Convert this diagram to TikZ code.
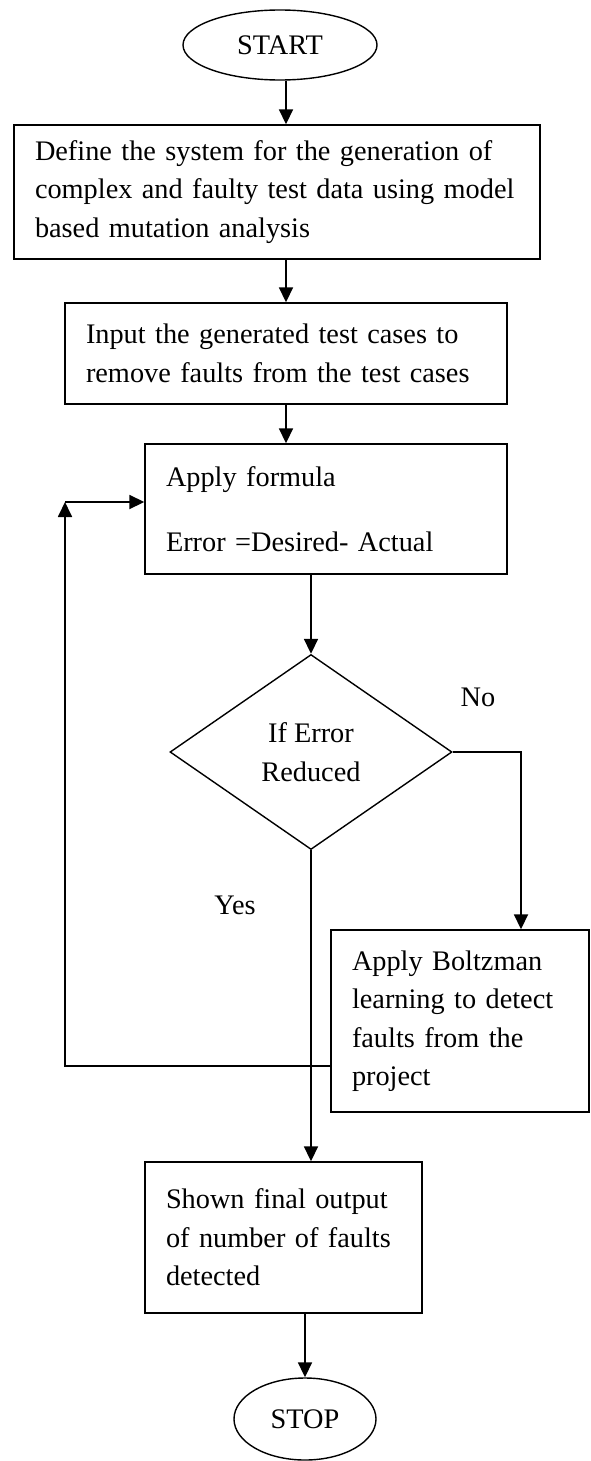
\documentclass[tikz,border=0pt]{standalone}
\usepackage{fontspec}
\setmainfont{Liberation Serif}
\usetikzlibrary{arrows.meta}
\usetikzlibrary{shapes.geometric}

\tikzset{
  stepbox/.style={draw, line width=1.4pt, inner xsep=21pt, inner ysep=0pt, align=left},
  terminal/.style={draw, ellipse, line width=1.4pt, inner sep=0pt},
  decision/.style={draw, diamond, line width=1.4pt, inner sep=0pt, aspect=1.446, align=center},
  flow/.style={line width=1.8pt, -{Triangle[length=15pt,width=14pt]}}
}

\begin{document}
\begin{tikzpicture}[x=1pt, y=-1pt, font=\fontsize{28.3}{38.5}\selectfont]
\useasboundingbox (0,0) rectangle (590,1461);
\coordinate (nobend) at (521,752);
\coordinate (loopbot) at (65,1066);
\coordinate (looptop) at (65,502);
% draws terminals
\node[terminal, minimum width=194pt, minimum height=70pt] (start) at (280,45) {START};
\node[terminal, minimum width=142pt, minimum height=82pt] (stop) at (305,1419) {STOP};
% draws boxes
\node[stepbox, text width=484pt, minimum height=134pt] (define) at (277,192)
  {Define the system for the generation of\\\mbox{complex and faulty test data using model}\\based mutation analysis};
\node[stepbox, text width=400pt, minimum height=101pt] (input) at (286,353.5)
  {Input the generated test cases to\\remove faults from the test cases};
\node[stepbox, text width=320pt, minimum height=130pt] (formula) at (326,509)
  {Apply formula\\[26.5pt]Error =Desired- Actual};
\node[decision, minimum width=282pt, minimum height=195pt] (test) at (311,752)
  {If Error\\Reduced};
\node[stepbox, text width=216pt, minimum height=182pt] (boltz) at (460,1021)
  {Apply Boltzman\\learning to detect\\faults from the\\project};
\node[stepbox, text width=235pt, minimum height=151pt] (output) at (283.5,1237.5)
  {Shown final output\\of number of faults\\detected};
% labels branches
\node (no) at (478,697) {No};
\node (yes) at (235,905) {Yes};
% draws arrows
\draw[flow] (start.south -| input.north) -- (define.north -| input.north);
\draw[flow] (define.south -| input.north) -- (input.north);
\draw[flow] (input.south) -- (input.south |- formula.north);
\draw[flow] (formula.south -| test.north) -- (test.north);
\draw[flow] (test.south) -- (test.south |- output.north);
\draw[flow] (output.south -| stop.north) -- (stop.north);
\draw[flow] (test.east) -- (nobend) -- (nobend |- boltz.north);
\draw[flow] (loopbot -| boltz.west) -- (loopbot) -- (looptop);
\draw[flow] (looptop) -- (looptop -| formula.west);
\end{tikzpicture}
\end{document}
